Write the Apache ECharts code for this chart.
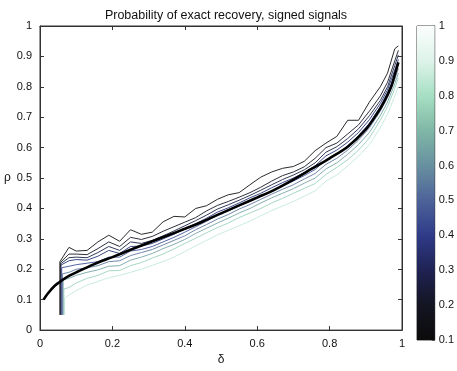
<!DOCTYPE html>
<html>
<head>
<meta charset="utf-8">
<title>Probability of exact recovery, signed signals</title>
<script src="https://cdn.jsdelivr.net/npm/echarts@6/dist/echarts.min.js"></script>
<style>
  html, body { margin: 0; padding: 0; background: #fff; }
  #chart { width: 457px; height: 371px; }
</style>
</head>
<body>
<div id="chart"></div>
<script>
  // contour levels (probability of exact recovery)
  var levels = [0.1, 0.2, 0.3, 0.4, 0.5, 0.6, 0.7, 0.8, 0.9];

  // left edge of the measured region, each contour runs up it before turning right
  var edgeDelta = [0.055, 0.056, 0.057, 0.058, 0.06, 0.062, 0.064, 0.066, 0.068];
  var edgeRho = [0.225, 0.222, 0.218, 0.214, 0.205, 0.185, 0.165, 0.135, 0.105];

  // delta positions shared by the contour traces
  var deltaGrid = [0.08, 0.1, 0.13, 0.16, 0.19, 0.22, 0.25, 0.28, 0.31, 0.34, 0.37, 0.40, 0.43, 0.46, 0.49,
    0.52, 0.55, 0.58, 0.61, 0.64, 0.67, 0.70, 0.73, 0.76, 0.79, 0.82, 0.85, 0.88, 0.91, 0.94, 0.96, 0.98, 0.99];

  var rho10 = [0.272, 0.26, 0.262, 0.29, 0.312, 0.292, 0.33, 0.315, 0.322, 0.356, 0.374, 0.372, 0.40, 0.409, 0.43,
    0.445, 0.452, 0.478, 0.503, 0.52, 0.532, 0.538, 0.555, 0.59, 0.615, 0.637, 0.69, 0.69, 0.75, 0.80, 0.845, 0.925, 0.935];
  var rho20 = [0.25, 0.25, 0.248, 0.268, 0.29, 0.275, 0.305, 0.298, 0.308, 0.325, 0.34, 0.355, 0.37, 0.392, 0.41,
    0.423, 0.437, 0.452, 0.47, 0.49, 0.508, 0.52, 0.537, 0.565, 0.60, 0.615, 0.645, 0.675, 0.72, 0.77, 0.815, 0.885, 0.92];
  var rho30 = [0.238, 0.24, 0.238, 0.255, 0.275, 0.262, 0.29, 0.285, 0.295, 0.31, 0.326, 0.343, 0.36, 0.378, 0.398,
    0.412, 0.427, 0.443, 0.46, 0.478, 0.495, 0.51, 0.527, 0.55, 0.585, 0.603, 0.63, 0.662, 0.705, 0.755, 0.80, 0.87, 0.905];
  var rho40 = [0.228, 0.232, 0.23, 0.243, 0.262, 0.252, 0.275, 0.276, 0.285, 0.30, 0.315, 0.333, 0.35, 0.368, 0.388,
    0.402, 0.418, 0.435, 0.45, 0.468, 0.485, 0.50, 0.518, 0.54, 0.573, 0.592, 0.618, 0.65, 0.692, 0.745, 0.79, 0.855, 0.89];
  var rho50 = [0.21, 0.215, 0.22, 0.225, 0.24, 0.24, 0.26, 0.265, 0.275, 0.29, 0.305, 0.322, 0.34, 0.358, 0.377,
    0.392, 0.408, 0.425, 0.44, 0.457, 0.475, 0.49, 0.508, 0.528, 0.56, 0.58, 0.605, 0.64, 0.68, 0.735, 0.78, 0.84, 0.875];
  var rho60 = [0.19, 0.20, 0.205, 0.212, 0.225, 0.228, 0.245, 0.255, 0.265, 0.28, 0.295, 0.31, 0.33, 0.347, 0.365,
    0.38, 0.398, 0.413, 0.43, 0.447, 0.463, 0.478, 0.497, 0.515, 0.545, 0.565, 0.592, 0.625, 0.665, 0.72, 0.765, 0.825, 0.86];
  var rho70 = [0.17, 0.18, 0.19, 0.198, 0.21, 0.212, 0.23, 0.24, 0.252, 0.268, 0.282, 0.298, 0.318, 0.335, 0.352,
    0.368, 0.385, 0.40, 0.418, 0.435, 0.45, 0.465, 0.483, 0.50, 0.53, 0.55, 0.578, 0.61, 0.65, 0.705, 0.75, 0.81, 0.845];
  var rho80 = [0.14, 0.155, 0.17, 0.18, 0.195, 0.196, 0.212, 0.222, 0.237, 0.25, 0.267, 0.285, 0.302, 0.32, 0.337,
    0.352, 0.37, 0.385, 0.40, 0.418, 0.433, 0.45, 0.466, 0.482, 0.512, 0.535, 0.56, 0.592, 0.632, 0.69, 0.735, 0.795, 0.83];
  var rho90 = [0.115, 0.13, 0.148, 0.16, 0.172, 0.18, 0.19, 0.20, 0.213, 0.225, 0.24, 0.258, 0.277, 0.295, 0.313,
    0.328, 0.343, 0.358, 0.376, 0.393, 0.408, 0.423, 0.44, 0.458, 0.49, 0.51, 0.54, 0.572, 0.61, 0.665, 0.71, 0.77, 0.80];

  // small closed contour island
  var islandDelta = [0.361];
  var islandRho = [0.342];

  // theoretical phase transition curve
  var curveDelta = [0.01, 0.02, 0.04, 0.06, 0.08, 0.1, 0.15, 0.2, 0.25, 0.3, 0.35, 0.4, 0.45, 0.5, 0.55, 0.6,
    0.65, 0.7, 0.75, 0.8, 0.85, 0.9, 0.93, 0.95, 0.97, 0.98, 0.99];
  var curveRho = [0.10, 0.118, 0.145, 0.163, 0.178, 0.19, 0.217, 0.24, 0.264, 0.287, 0.31, 0.333, 0.357, 0.384, 0.41, 0.436,
    0.463, 0.495, 0.53, 0.565, 0.603, 0.66, 0.71, 0.75, 0.80, 0.84, 0.88];

  // colorbar range
  var cbarRange = [0.1, 1];

  var contourRho = [rho10, rho20, rho30, rho40, rho50, rho60, rho70, rho80, rho90];
  var lineColors = ['#2b2b2b', '#30303e', '#323a58', '#3d4a86', '#5466a4', '#7088aa', '#86aeb0', '#a6d8c4', '#c9ede0'];
  var cmapStops = ['#fbfefd', '#def3ea', '#a6dfc3', '#7fb7a6', '#6890a0', '#4d6399', '#2f3b88', '#1f2253', '#141522', '#0b0b0b'];

  var font = 'Liberation Sans, Arial, Helvetica, sans-serif';

  function contourData(i) {
    var pts = [[edgeDelta[i], 0.05], [edgeDelta[i], edgeRho[i]]];
    for (var j = 0; j < deltaGrid.length; j++) {
      pts.push([deltaGrid[j], contourRho[i][j]]);
    }
    return pts;
  }

  var series = [];
  // light contours first so the dark ones sit on top
  for (var i = levels.length - 1; i >= 0; i--) {
    series.push({
      name: 'p = ' + levels[i],
      type: 'line',
      xAxisIndex: 0,
      yAxisIndex: 0,
      symbol: 'none',
      silent: true,
      lineStyle: { color: lineColors[i], width: 1 },
      data: contourData(i)
    });
  }
  series.push({
    type: 'scatter',
    xAxisIndex: 0,
    yAxisIndex: 0,
    symbol: 'emptyCircle',
    symbolSize: 3,
    itemStyle: { color: '#fff', borderColor: '#333', borderWidth: 1 },
    data: islandDelta.map(function (d, k) { return [d, islandRho[k]]; })
  });
  series.push({
    name: 'theory',
    type: 'line',
    xAxisIndex: 0,
    yAxisIndex: 0,
    symbol: 'none',
    smooth: 0.3,
    lineStyle: { color: '#000', width: 2.6 },
    data: curveDelta.map(function (d, k) { return [d, curveRho[k]]; })
  });
  // colorbar drawn in its own grid
  series.push({
    type: 'custom',
    xAxisIndex: 2,
    yAxisIndex: 2,
    silent: true,
    data: [[0, cbarRange[0], 1, cbarRange[1]]],
    renderItem: function (params, api) {
      var p0 = api.coord([api.value(0), api.value(3)]);
      var p1 = api.coord([api.value(2), api.value(1)]);
      return {
        type: 'rect',
        shape: { x: p0[0], y: p0[1], width: p1[0] - p0[0], height: p1[1] - p0[1] },
        style: {
          fill: new echarts.graphic.LinearGradient(0, 0, 0, 1, cmapStops.map(function (c, k) {
            return { offset: k / (cmapStops.length - 1), color: c };
          }))
        }
      };
    }
  });

  var tickStyle = { show: true, inside: true, length: 4, lineStyle: { color: '#333', width: 1 } };
  var axisLineStyle = { show: true, onZero: false, lineStyle: { color: '#333', width: 1 } };
  var labelStyle = { color: '#111', fontSize: 11, fontFamily: font };

  var chart = echarts.init(document.getElementById('chart'));
  chart.setOption({
    animation: false,
    backgroundColor: '#fff',
    title: {
      text: 'Probability of exact recovery, signed signals',
      left: 221,
      top: 4,
      textAlign: 'center',
      textStyle: { fontSize: 12.5, fontWeight: 'normal', color: '#111', fontFamily: font }
    },
    grid: [
      { left: 40, right: 55, top: 26, bottom: 31, show: true, borderColor: '#333', borderWidth: 1, backgroundColor: 'transparent' },
      { left: 417, width: 18, top: 26, height: 314, show: true, borderColor: '#444', borderWidth: 1, backgroundColor: 'transparent' }
    ],
    xAxis: [
      {
        gridIndex: 0, type: 'value', min: 0, max: 1, interval: 0.2, position: 'bottom',
        name: 'δ', nameLocation: 'middle', nameGap: 20,
        nameTextStyle: { fontSize: 12, color: '#111', fontFamily: font },
        axisLine: axisLineStyle, axisTick: tickStyle, axisLabel: labelStyle, splitLine: { show: false }
      },
      {
        gridIndex: 0, type: 'value', min: 0, max: 1, interval: 0.2, position: 'top',
        axisLine: axisLineStyle, axisTick: tickStyle, axisLabel: { show: false }, splitLine: { show: false }
      },
      {
        gridIndex: 1, type: 'value', min: 0, max: 1, show: false
      }
    ],
    yAxis: [
      {
        gridIndex: 0, type: 'value', min: 0, max: 1, interval: 0.1, position: 'left',
        name: 'ρ', nameLocation: 'middle', nameGap: 24, nameRotate: 0,
        nameTextStyle: { fontSize: 12, color: '#111', fontFamily: font },
        axisLine: axisLineStyle, axisTick: tickStyle, axisLabel: labelStyle, splitLine: { show: false }
      },
      {
        gridIndex: 0, type: 'value', min: 0, max: 1, interval: 0.1, position: 'right',
        axisLine: axisLineStyle, axisTick: tickStyle, axisLabel: { show: false }, splitLine: { show: false }
      },
      {
        gridIndex: 1, type: 'value', min: cbarRange[0], max: cbarRange[1], interval: 0.1, position: 'right',
        axisLine: axisLineStyle,
        axisTick: { show: true, inside: true, length: 3, lineStyle: { color: '#555' } },
        axisLabel: { color: '#111', fontSize: 11, fontFamily: font, margin: 4 },
        splitLine: { show: false }
      }
    ],
    series: series
  });
</script>
</body>
</html>
